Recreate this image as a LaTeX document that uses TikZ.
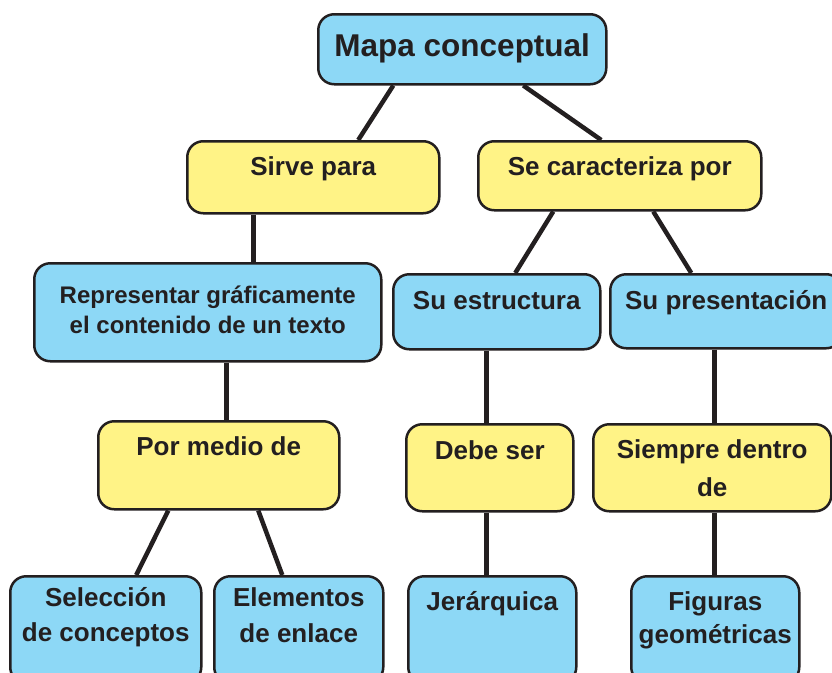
\documentclass[tikz,border=0pt]{standalone}
\usepackage{fontspec}
\setmainfont{Liberation Sans}
\usepackage{tikz}
\usetikzlibrary{backgrounds}

\definecolor{cielo}{HTML}{8DD8F6}
\definecolor{limon}{HTML}{FFF386}
\definecolor{tinta}{HTML}{231F20}

\begin{document}
\begin{tikzpicture}
		[x=1pt,y=-1pt,
		box/.style={draw=tinta, line width=2.5pt, rounded corners=16pt, anchor=north west,
			inner xsep=2pt, inner ysep=0pt, align=center, text=tinta,
			font=\bfseries\fontsize{26}{34}\selectfont},
		bluebox/.style={box, fill=cielo},
		yellowbox/.style={box, fill=limon},
		link/.style={draw=tinta, line width=4.5pt}]

		\useasboundingbox (0,0) rectangle (832,672);

		% raiz
		\node[bluebox, minimum width=288pt, text height=42pt, text depth=28pt,
			font=\bfseries\fontsize{31.5}{38}\selectfont] (mapa) at (317,13) {Mapa conceptual};

		% segundo nivel
		\node[yellowbox, minimum width=252pt, text height=34pt, text depth=38pt] (sirve) at (186,140) {Sirve para};
		\node[yellowbox, minimum width=283pt, text height=34pt, text depth=35pt] (caract) at (477,140) {Se caracteriza por};

		% tercer nivel (text height hasta la ultima linea)
		\node[bluebox, minimum width=347pt, text height=70pt, text depth=28pt,
			font=\bfseries\fontsize{24}{30}\selectfont] (repr) at (33,262)
			{Representar gráficamente\\el contenido de un texto};
		\node[bluebox, minimum width=207pt, text height=35pt, text depth=40pt] (estruct) at (392,273) {Su estructura};
		\node[bluebox, minimum width=232pt, text height=35pt, text depth=39pt] (present) at (609,273) {Su presentación};

		% cuarto nivel
		\node[yellowbox, minimum width=241pt, text height=34pt, text depth=54pt] (medio) at (97,420) {Por medio de};
		\node[yellowbox, minimum width=167pt, text height=35pt, text depth=52pt] (debe) at (405,423) {Debe ser};
		\node[yellowbox, minimum width=238pt, text height=72pt, text depth=15pt,
			font=\bfseries\fontsize{26}{38}\selectfont] (dentro) at (592,423) {Siempre dentro\\de};

		% hojas
		\node[bluebox, minimum width=191pt, text height=65pt, text depth=42pt,
			font=\bfseries\fontsize{26}{35}\selectfont] (selec) at (9,575) {Selección\\de conceptos};
		\node[bluebox, minimum width=169pt, text height=66pt, text depth=41pt,
			font=\bfseries\fontsize{26}{36}\selectfont] (enlace) at (213,575) {Elementos\\de enlace};
		\node[bluebox, minimum width=168pt, text height=34pt, text depth=73pt] (jerarq) at (407,575) {Jerárquica};
		\node[bluebox, minimum width=168pt, text height=67pt, text depth=40pt,
			font=\bfseries\fontsize{26}{33}\selectfont] (figuras) at (630,575) {Figuras\\geométricas};

		\begin{pgfonlayer}{background}
		\draw[link] ([xshift=-69pt]mapa.south) -- ([xshift=45pt]sirve.north);
		\draw[link] ([xshift=61pt]mapa.south) -- ([xshift=-18.5pt]caract.north);
		\draw[link] ([xshift=-60pt]sirve.south) -- ([xshift=45.5pt]repr.north);
		\draw[link] ([xshift=-66.5pt]caract.south) -- ([xshift=18.5pt]estruct.north);
		\draw[link] ([xshift=33.5pt]caract.south) -- ([xshift=-35pt]present.north);
		\draw[link] ([xshift=18.5pt]repr.south) -- ([xshift=7.5pt]medio.north);
		\draw[link] ([xshift=-10.5pt]estruct.south) -- ([xshift=-3.5pt]debe.north);
		\draw[link] ([xshift=-12pt]present.south) -- ([xshift=2pt]dentro.north);
		\draw[link] ([xshift=-50.5pt]medio.south) -- ([xshift=30.5pt]selec.north);
		\draw[link] ([xshift=39.5pt]medio.south) -- ([xshift=-16.5pt]enlace.north);
		\draw[link] ([xshift=-3.5pt]debe.south) -- ([xshift=-6pt]jerarq.north);
		\draw[link] ([xshift=2pt]dentro.south) -- ([xshift=-1pt]figuras.north);
		\end{pgfonlayer}

\end{tikzpicture}
\end{document}
